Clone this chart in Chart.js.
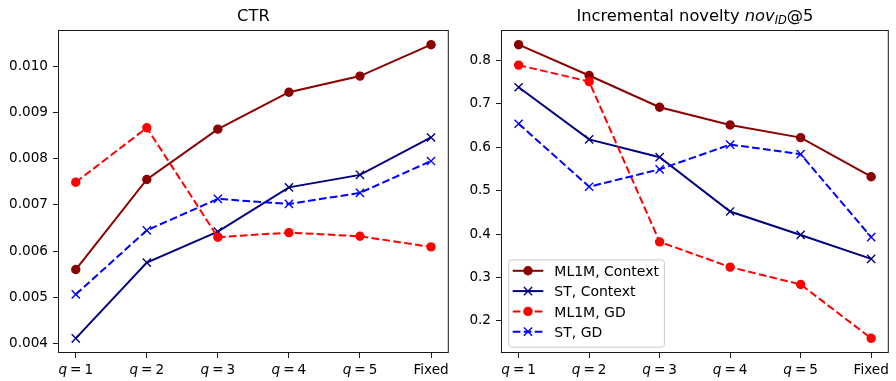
<!DOCTYPE html>
<html>
<head>
<meta charset="utf-8">
<script src="https://cdn.jsdelivr.net/npm/chart.js@4.4.0/dist/chart.umd.min.js"></script>
<style>
    body { margin: 0; background: #fff; width: 896px; height: 381px; position: relative; overflow: hidden; }
    .panel { position: absolute; top: 0; height: 381px; }
    #ctr-panel { left: 0; width: 456px; }
    #nov-panel { left: 456px; width: 440px; }
</style>
</head>
<body>
<div class="panel" id="ctr-panel"><canvas id="ctr-chart" width="456" height="381"></canvas></div>
<div class="panel" id="nov-panel"><canvas id="nov-chart" width="440" height="381"></canvas></div>
<script>
// x positions 0..5, labels in matplotlib-style mathtext
const xTickLabels = ['$q=1$', '$q=2$', '$q=3$', '$q=4$', '$q=5$', 'Fixed'];

const seriesNames = ['ML1M, Context', 'ST, Context', 'ML1M, GD', 'ST, GD'];

// CTR panel
const ctrTicks = [0.004, 0.005, 0.006, 0.007, 0.008, 0.009, 0.010];
const ctrMl1mContext = [0.00560, 0.00755, 0.00864, 0.00944, 0.00979, 0.01047];
const ctrStContext = [0.00411, 0.00575, 0.00642, 0.00738, 0.00765, 0.00846];
const ctrMl1mGd = [0.00749, 0.00867, 0.00630, 0.00640, 0.00632, 0.00609];
const ctrStGd = [0.00506, 0.00645, 0.00713, 0.00702, 0.00726, 0.00795];

// novelty panel
const novTicks = [0.2, 0.3, 0.4, 0.5, 0.6, 0.7, 0.8];
const novMl1mContext = [0.836, 0.765, 0.692, 0.651, 0.622, 0.532];
const novStContext = [0.738, 0.618, 0.577, 0.452, 0.398, 0.343];
const novMl1mGd = [0.789, 0.751, 0.382, 0.324, 0.284, 0.160];
const novStGd = [0.654, 0.509, 0.549, 0.606, 0.584, 0.393];

const seriesStyles = [
    { color: '#8b0000', marker: 'circle', dash: [] },
    { color: '#000080', marker: 'crossRot', dash: [] },
    { color: '#ff0000', marker: 'circle', dash: [7.7, 3.3] },
    { color: '#0000ff', marker: 'crossRot', dash: [7.7, 3.3] }
];

const FONT = 'DejaVu Sans';
const TICK_SIZE = 13.6;
const TITLE_SIZE = 16.3;
const LEGEND_SIZE = 14;

Chart.defaults.font.family = FONT;
Chart.defaults.font.size = TICK_SIZE;
Chart.defaults.color = '#000';

// split "$...$" parts into italic / upright / subscript runs
function mathRuns(str) {
    const runs = [];
    str.split('$').forEach((part, i) => {
        if (i % 2 === 0) {
            if (part) runs.push({ text: part });
            return;
        }
        const re = /_\{([^}]*)\}|[A-Za-z]+|=|[^A-Za-z=_]+/g;
        let m;
        while ((m = re.exec(part)) !== null) {
            if (m[1] !== undefined) runs.push({ text: m[1], italic: true, sub: true });
            else if (m[0] === '=') runs.push({ text: '=', gap: 0.22 });
            else runs.push({ text: m[0], italic: /[A-Za-z]/.test(m[0]) });
        }
    });
    return runs;
}

function drawMathText(ctx, str, cx, baseline, size) {
    const runs = mathRuns(str);
    const fontFor = r => `${r.italic ? 'italic ' : ''}${r.sub ? size * 0.7 : size}px "${FONT}"`;
    let total = 0;
    runs.forEach(r => {
        ctx.font = fontFor(r);
        r.w = ctx.measureText(r.text).width + (r.gap ? 2 * r.gap * size : 0);
        total += r.w;
    });
    let x = cx - total / 2;
    ctx.textAlign = 'left';
    ctx.textBaseline = 'alphabetic';
    runs.forEach(r => {
        ctx.font = fontFor(r);
        ctx.fillText(r.text, x + (r.gap ? r.gap * size : 0), baseline + (r.sub ? size * 0.2 : 0));
        x += r.w;
    });
}

function drawMarker(ctx, style, x, y) {
    ctx.setLineDash([]);
    ctx.lineWidth = 1.4;
    ctx.strokeStyle = style.color;
    ctx.fillStyle = style.color;
    if (style.marker === 'circle') {
        ctx.beginPath();
        ctx.arc(x, y, 4, 0, Math.PI * 2);
        ctx.fill();
        ctx.stroke();
    } else {
        const d = 4.1;
        ctx.beginPath();
        ctx.moveTo(x - d, y - d); ctx.lineTo(x + d, y + d);
        ctx.moveTo(x - d, y + d); ctx.lineTo(x + d, y - d);
        ctx.stroke();
    }
}

function drawLegend(chart) {
    const { ctx, chartArea: a } = chart;
    const sets = chart.data.datasets;
    ctx.font = `${LEGEND_SIZE}px "${FONT}"`;
    const textW = Math.max(...sets.map(d => ctx.measureText(d.label).width));
    const rowH = 20.3;
    const w = 46 + textW + 5;
    const h = 11.4 + (sets.length - 1) * rowH + 15;
    const x0 = a.left + 7.3;
    const y0 = a.bottom - 6.3 - h;

    ctx.save();
    ctx.beginPath();
    ctx.roundRect(x0 + 0.5, y0 + 0.5, w, h, 3);
    ctx.fillStyle = 'rgba(255,255,255,0.8)';
    ctx.fill();
    ctx.strokeStyle = '#cccccc';
    ctx.lineWidth = 1;
    ctx.stroke();

    sets.forEach((d, i) => {
        const style = seriesStyles[i];
        const cy = y0 + 11.4 + i * rowH;
        const hx0 = x0 + 4.4, hx1 = hx0 + 30.6;
        ctx.beginPath();
        ctx.setLineDash(style.dash);
        ctx.lineWidth = 2;
        ctx.strokeStyle = style.color;
        ctx.moveTo(hx0, cy);
        ctx.lineTo(hx1, cy);
        ctx.stroke();
        drawMarker(ctx, style, (hx0 + hx1) / 2, cy);

        ctx.font = `${LEGEND_SIZE}px "${FONT}"`;
        ctx.fillStyle = '#000';
        ctx.textAlign = 'left';
        ctx.textBaseline = 'alphabetic';
        ctx.fillText(d.label, x0 + 46, cy + 5.2);
    });
    ctx.restore();
}

// axes frame, mathtext title, x tick labels and the optional legend
const axesDecor = {
    id: 'axesDecor',
    afterDatasetsDraw(chart) {
        const { ctx, chartArea: a } = chart;
        ctx.save();
        ctx.strokeStyle = '#1a1a1a';
        ctx.lineWidth = 1;
        ctx.strokeRect(a.left + 0.5, a.top + 0.5, a.right - a.left - 1, a.bottom - a.top - 1);
        ctx.restore();
    },
    afterDraw(chart, args, opts) {
        const { ctx, chartArea: a } = chart;
        const xScale = chart.scales.x;
        ctx.save();
        ctx.fillStyle = '#000';
        drawMathText(ctx, opts.title, (a.left + a.right) / 2, a.top - 9, TITLE_SIZE);
        xTickLabels.forEach((label, i) => {
            drawMathText(ctx, label, xScale.getPixelForValue(i), a.bottom + 21, TICK_SIZE);
        });
        ctx.restore();
        if (opts.legend) drawLegend(chart);
    }
};

// matplotlib-like 5% data margins
function paddedRange(arrays) {
    const all = [].concat(...arrays);
    const lo = Math.min(...all), hi = Math.max(...all);
    const m = (hi - lo) * 0.05;
    return [lo - m, hi + m];
}

function makeDatasets(seriesValues) {
    return seriesValues.map((values, i) => {
        const s = seriesStyles[i];
        const isCircle = s.marker === 'circle';
        return {
            label: seriesNames[i],
            data: values.map((v, k) => ({ x: k, y: v })),
            borderColor: s.color,
            backgroundColor: s.color,
            borderWidth: 2,
            borderDash: s.dash,
            tension: 0,
            pointStyle: s.marker,
            pointRadius: isCircle ? 4 : 5.8,
            pointBorderWidth: 1.4,
            pointBackgroundColor: s.color,
            pointBorderColor: s.color,
            order: seriesValues.length - i
        };
    });
}

function renderLineChart(htmlId, seriesValues, yTicks, decimals, title, yAxisWidth, rightPad, showLegend) {
    const [yMin, yMax] = paddedRange(seriesValues);
    const ctx = document.getElementById(htmlId).getContext('2d');
    new Chart(ctx, {
        type: 'line',
        data: { datasets: makeDatasets(seriesValues) },
        plugins: [axesDecor],
        options: {
            responsive: false,
            animation: false,
            events: [],
            layout: { padding: { top: 30, right: rightPad, bottom: 0, left: 0 } },
            plugins: {
                legend: { display: false },
                tooltip: { enabled: false },
                axesDecor: { title: title, legend: showLegend }
            },
            scales: {
                x: {
                    type: 'linear',
                    min: -0.25,
                    max: xTickLabels.length - 0.75,
                    afterBuildTicks: scale => {
                        scale.ticks = xTickLabels.map((_, i) => ({ value: i }));
                    },
                    afterFit: scale => { scale.height = 28; },
                    ticks: { display: false },
                    border: { display: false },
                    grid: { drawOnChartArea: false, drawTicks: true, tickLength: 5, tickColor: '#1a1a1a', tickWidth: 1 }
                },
                y: {
                    type: 'linear',
                    min: yMin,
                    max: yMax,
                    afterBuildTicks: scale => {
                        scale.ticks = yTicks.map(v => ({ value: v }));
                    },
                    afterFit: scale => { scale.width = yAxisWidth; },
                    ticks: {
                        padding: 5,
                        color: '#000',
                        font: { size: TICK_SIZE },
                        callback: v => v.toFixed(decimals)
                    },
                    border: { display: false },
                    grid: { drawOnChartArea: false, drawTicks: true, tickLength: 5, tickColor: '#1a1a1a', tickWidth: 1 }
                }
            }
        }
    });
}

window.onload = function () {
    renderLineChart('ctr-chart', [ctrMl1mContext, ctrStContext, ctrMl1mGd, ctrStGd],
        ctrTicks, 3, 'CTR', 58, 7, false);
    renderLineChart('nov-chart', [novMl1mContext, novStContext, novMl1mGd, novStGd],
        novTicks, 1, 'Incremental novelty $nov_{ID}$@5', 45, 4, true);
};
</script>
</body>
</html>
